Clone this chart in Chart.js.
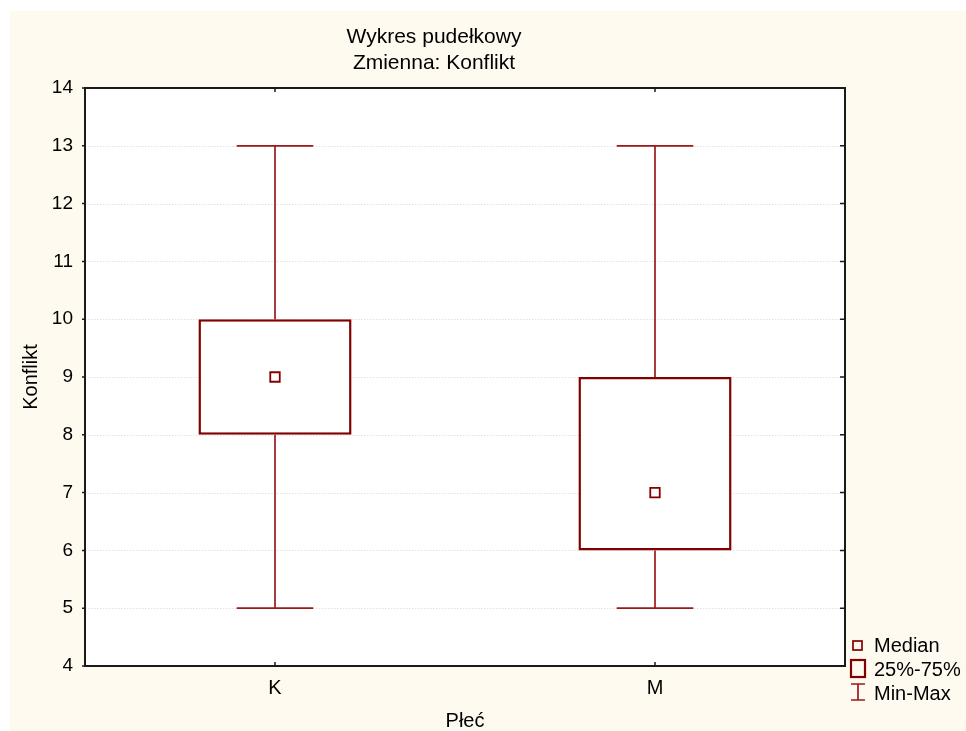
<!DOCTYPE html>
<html>
<head>
<meta charset="utf-8">
<title>Wykres pudełkowy</title>
<script src="https://cdn.jsdelivr.net/npm/chart.js@4/dist/chart.umd.min.js"></script>
<style>
  html, body { margin: 0; padding: 0; background: #ffffff; }
  #wrap { width: 966px; height: 731px; }
</style>
</head>
<body>
<div id="wrap"><canvas id="c" width="966" height="731"></canvas></div>
<script>
// Box plot of "Konflikt" split by "Płeć"
const categories = ['K', 'M'];
const minValues = [5, 5];
const q1Values = [8, 6];
const medianValues = [9, 7];
const q3Values = [10, 9];
const maxValues = [13, 13];

const yMin = 4;
const yMax = 14;

const titleLines = ['Wykres pudełkowy', 'Zmienna: Konflikt'];
const xTitle = 'Płeć';
const yTitle = 'Konflikt';
const legendLabels = ['Median', '25%-75%', 'Min-Max'];

const FONT = '"Liberation Sans", Arial, Helvetica, sans-serif';
const MARK = '#820000';
const CREAM = '#fffaf0';

const boxData = categories.map((_, i) => [q1Values[i], q3Values[i]]);

const decor = {
  id: 'decor',
  beforeDraw(chart) {
    const ctx = chart.ctx;
    const a = chart.chartArea;
    ctx.save();
    ctx.fillStyle = '#ffffff';
    ctx.fillRect(0, 0, chart.width, chart.height);
    ctx.fillStyle = CREAM;
    ctx.fillRect(10, 11, chart.width - 10, chart.height - 11);
    ctx.fillStyle = '#ffffff';
    ctx.fillRect(a.left, a.top, a.right - a.left, a.bottom - a.top);
    ctx.restore();
  },
  beforeDatasetsDraw(chart) {
    const ctx = chart.ctx;
    const a = chart.chartArea;
    const ys = chart.scales.y;
    const xs = chart.scales.x;
    ctx.save();
    // faint dotted horizontal grid
    ctx.strokeStyle = '#e2e2e2';
    ctx.lineWidth = 1;
    ctx.setLineDash([1.5, 1.5]);
    ys.ticks.forEach(t => {
      if (t.value <= yMin || t.value >= yMax) return;
      const y = Math.round(ys.getPixelForValue(t.value)) + 0.5;
      ctx.beginPath();
      ctx.moveTo(a.left, y);
      ctx.lineTo(a.right, y);
      ctx.stroke();
    });
    ctx.setLineDash([]);
    // whiskers with end caps
    const meta = chart.getDatasetMeta(1);
    ctx.strokeStyle = '#9a1a1a';
    ctx.lineWidth = 1.7;
    categories.forEach((_, i) => {
      const x = xs.getPixelForValue(i);
      const half = meta.data[i].width / 4;
      const yLo = ys.getPixelForValue(minValues[i]);
      const yHi = ys.getPixelForValue(maxValues[i]);
      const yQ1 = ys.getPixelForValue(q1Values[i]);
      const yQ3 = ys.getPixelForValue(q3Values[i]);
      ctx.beginPath();
      ctx.moveTo(x, yHi); ctx.lineTo(x, yQ3);
      ctx.moveTo(x, yQ1); ctx.lineTo(x, yLo);
      ctx.moveTo(x - half, yHi); ctx.lineTo(x + half, yHi);
      ctx.moveTo(x - half, yLo); ctx.lineTo(x + half, yLo);
      ctx.stroke();
    });
    ctx.restore();
  },
  afterDraw(chart) {
    const ctx = chart.ctx;
    const a = chart.chartArea;
    const ys = chart.scales.y;
    const xs = chart.scales.x;
    ctx.save();
    // frame and tick marks
    ctx.strokeStyle = '#1a1a1a';
    ctx.lineWidth = 2;
    ctx.strokeRect(a.left, a.top, a.right - a.left, a.bottom - a.top);
    ctx.lineWidth = 1.5;
    ctx.beginPath();
    ys.ticks.forEach(t => {
      const y = ys.getPixelForValue(t.value);
      ctx.moveTo(a.left - 3, y); ctx.lineTo(a.left, y);
      ctx.moveTo(a.right - 5, y); ctx.lineTo(a.right, y);
    });
    categories.forEach((_, i) => {
      const x = xs.getPixelForValue(i);
      ctx.moveTo(x, a.top); ctx.lineTo(x, a.top + 4);
      ctx.moveTo(x, a.bottom); ctx.lineTo(x, a.bottom - 4);
    });
    ctx.stroke();

    // titles
    ctx.fillStyle = '#000000';
    ctx.textAlign = 'center';
    ctx.textBaseline = 'alphabetic';
    ctx.font = '21px ' + FONT;
    ctx.fillText(titleLines[0], 434, 43);
    ctx.fillText(titleLines[1], 434, 69);
    ctx.font = '20px ' + FONT;
    ctx.fillText(xTitle, (a.left + a.right) / 2, 727);
    ctx.save();
    ctx.translate(37, (a.top + a.bottom) / 2);
    ctx.rotate(-Math.PI / 2);
    ctx.fillText(yTitle, 0, 0);
    ctx.restore();

    // legend
    ctx.strokeStyle = MARK;
    ctx.lineWidth = 1.7;
    ctx.strokeRect(853, 641, 9, 9);
    ctx.lineWidth = 2.2;
    ctx.strokeRect(851, 660, 14, 17);
    ctx.strokeStyle = '#9a1a1a';
    ctx.lineWidth = 1.7;
    ctx.beginPath();
    ctx.moveTo(858, 684); ctx.lineTo(858, 700);
    ctx.moveTo(851, 684); ctx.lineTo(865, 684);
    ctx.moveTo(851, 700); ctx.lineTo(865, 700);
    ctx.stroke();
    ctx.fillStyle = '#000000';
    ctx.textAlign = 'left';
    ctx.fillText(legendLabels[0], 874, 652);
    ctx.fillText(legendLabels[1], 874, 676);
    ctx.fillText(legendLabels[2], 874, 700);
    ctx.restore();
  }
};

new Chart(document.getElementById('c'), {
  type: 'bar',
  data: {
    labels: categories,
    datasets: [
      {
        type: 'line',
        label: legendLabels[0],
        data: medianValues,
        showLine: false,
        pointStyle: 'rect',
        pointRadius: 6.7,
        pointBorderWidth: 1.8,
        pointBorderColor: MARK,
        pointBackgroundColor: '#ffffff',
        order: 0
      },
      {
        type: 'bar',
        label: legendLabels[1],
        data: boxData,
        backgroundColor: '#ffffff',
        borderColor: MARK,
        borderWidth: 2.5,
        borderSkipped: false,
        barPercentage: 0.403,
        categoryPercentage: 1,
        order: 1
      }
    ]
  },
  options: {
    responsive: false,
    animation: false,
    devicePixelRatio: 1,
    layout: { padding: { top: 88, right: 121, bottom: 0, left: 0 } },
    plugins: {
      legend: { display: false },
      title: { display: false },
      tooltip: { enabled: false }
    },
    scales: {
      x: {
        type: 'category',
        offset: true,
        grid: { display: false, drawTicks: false },
        border: { display: false },
        ticks: { color: '#000000', font: { family: FONT, size: 20 }, padding: 10 },
        afterFit(scale) { scale.height = 65; }
      },
      y: {
        min: yMin,
        max: yMax,
        grid: { display: false, drawTicks: false },
        border: { display: false },
        ticks: { stepSize: 1, color: '#000000', font: { family: FONT, size: 19 }, padding: 12 },
        afterFit(scale) { scale.width = 85; }
      }
    }
  },
  plugins: [decor]
});
</script>
</body>
</html>
